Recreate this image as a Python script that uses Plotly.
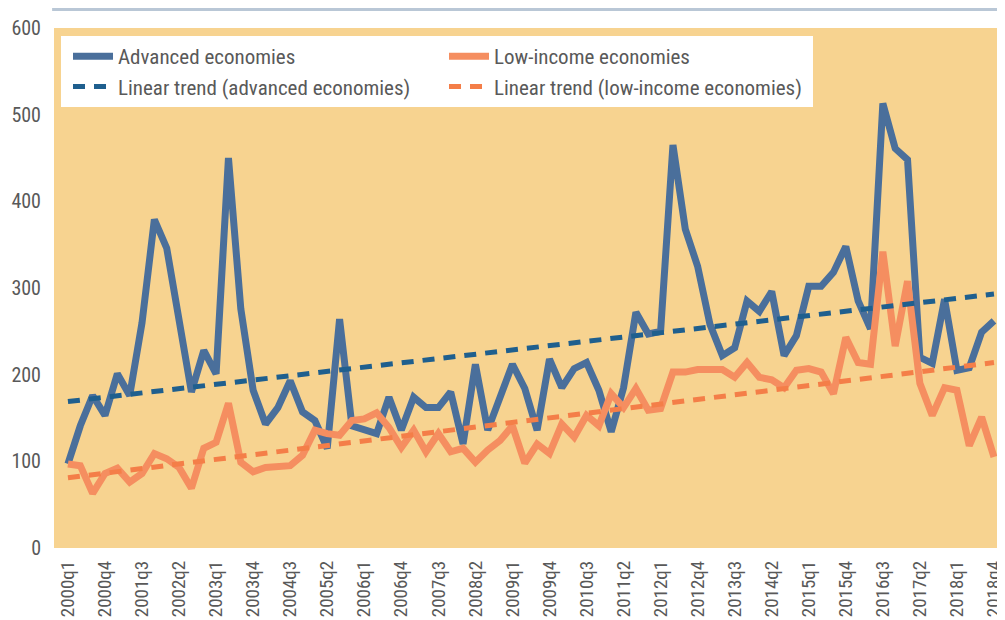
import plotly.graph_objects as go

quarters = [f"{y}q{q}" for y in range(2000, 2019) for q in range(1, 5)]

advanced = [97, 141, 176, 153, 201, 176, 260, 379, 346, 266,
            180, 228, 201, 450, 276, 182, 143, 162, 193, 157,
            147, 115, 264, 141, 136, 132, 174, 136, 174, 162,
            162, 180, 120, 212, 136, 174, 212, 184, 136, 218,
            185, 207, 214, 182, 134, 185, 272, 247, 250, 465,
            368, 325, 258, 222, 231, 285, 273, 296, 222, 245,
            302, 302, 318, 348, 285, 253, 513, 461, 448, 220,
            213, 287, 205, 208, 249, 262]

low_income = [97, 95, 63, 86, 92, 76, 86, 109, 103, 93,
              69, 115, 122, 167, 99, 88, 93, 95, 95, 107,
              136, 132, 130, 147, 149, 156, 139, 116, 136, 111,
              132, 111, 115, 99, 113, 124, 141, 98, 120, 109,
              143, 128, 153, 141, 178, 162, 184, 159, 161, 203,
              203, 206, 206, 206, 197, 214, 197, 194, 185, 205,
              207, 203, 178, 243, 214, 212, 342, 233, 308, 190,
              153, 185, 182, 118, 151, 105]

trend_adv_ends = [169, 293]
trend_low_ends = [81, 214]

tick_labels = quarters[::3]
y_ticks = [0, 100, 200, 300, 400, 500, 600]

BLUE = "#4A6F9B"
ORANGE = "#F58E60"
BLUE_D = "#1F5F8E"
ORANGE_D = "#F47E48"
FONT = "Roboto Condensed, Roboto, sans-serif"
TXT = "#595959"

fig = go.Figure()
fig.add_trace(go.Scatter(x=quarters, y=advanced, mode="lines", name="Advanced economies",
                         line=dict(color=BLUE, width=7)))
fig.add_trace(go.Scatter(x=quarters, y=low_income, mode="lines", name="Low-income economies",
                         line=dict(color=ORANGE, width=7)))
fig.add_trace(go.Scatter(x=[quarters[0], quarters[-1]], y=trend_adv_ends, mode="lines",
                         name="Linear trend (advanced economies)",
                         line=dict(color=BLUE_D, width=5, dash="12px,9px")))
fig.add_trace(go.Scatter(x=[quarters[0], quarters[-1]], y=trend_low_ends, mode="lines",
                         name="Linear trend (low-income economies)",
                         line=dict(color=ORANGE_D, width=5, dash="12px,9px")))

# the page body has an 8px default margin, so the figure is sized to fit the window
fig.update_layout(
    width=997, height=612,
    margin=dict(l=46, r=4, t=20, b=72),
    paper_bgcolor="white",
    plot_bgcolor="#F7D390",
    font=dict(family=FONT, color=TXT, size=20),
    showlegend=True,
    legend=dict(orientation="h", x=0.0074, y=0.9846, xanchor="left", yanchor="top",
                bgcolor="white", borderwidth=0, font=dict(family=FONT, size=21, color=TXT),
                entrywidth=314, entrywidthmode="pixels", itemwidth=40, indentation=7,
                traceorder="normal"),
    xaxis=dict(type="category", categoryorder="array", categoryarray=quarters,
               range=[-1.13, 75.57], tickmode="array", tickvals=tick_labels,
               ticktext=tick_labels, tickangle=-90, showgrid=False, zeroline=False,
               showline=False, ticks="", ticklabelstandoff=8, automargin=False,
               tickfont=dict(family=FONT, size=19, color=TXT)),
    yaxis=dict(range=[0, 600], tickmode="array", tickvals=y_ticks,
               showgrid=False, zeroline=False, showline=False, ticks="",
               ticklabelstandoff=12, automargin=False,
               tickfont=dict(family=FONT, size=20, color=TXT)),
    shapes=[dict(type="line", xref="paper", yref="paper", x0=-0.002, x1=0.999,
                 y0=1.0356, y1=1.0356, line=dict(color="#B9C7D6", width=3))],
)

fig.write_html("out.html")
